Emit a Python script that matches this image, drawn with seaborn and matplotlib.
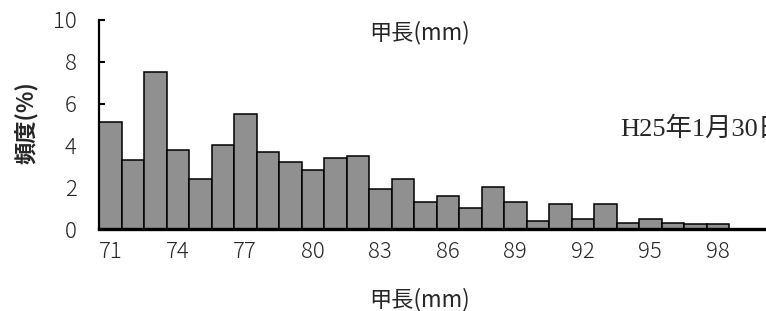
import matplotlib
matplotlib.use("Agg")
import matplotlib.pyplot as plt
import seaborn as sns
import numpy as np

# carapace length classes (mm) and frequency (%)
sizes = list(range(71, 100))
freq = [5.1, 3.3, 7.5, 3.8, 2.4, 4.0, 5.5, 3.7, 3.2, 2.8,
        3.4, 3.5, 1.9, 2.4, 1.3, 1.6, 1.0, 2.0, 1.3, 0.4,
        1.2, 0.5, 1.2, 0.3, 0.5, 0.3, 0.25, 0.25, 0.0]
tick_labels = [71, 74, 77, 80, 83, 86, 89, 92, 95, 98]
yticks = [0, 2, 4, 6, 8, 10]

sns.set_style("white")
plt.rcParams['font.family'] = ['Noto Sans CJK JP', 'DejaVu Sans']

fig = plt.figure(figsize=(7.66, 3.11), dpi=100)
ax = fig.add_axes([99 / 766, 82 / 311, 675 / 766, 209 / 311])

sns.barplot(x=sizes, y=freq, native_scale=True, width=1, color='#909090',
            saturation=1, edgecolor='black', linewidth=1.1, ax=ax)

ax.set_xlim(70.5, 100.5)
ax.set_ylim(0, 10)

ax.set_xticks(tick_labels)
ax.set_xticklabels([str(t) for t in tick_labels], fontsize=16, fontweight='light')
ax.set_xticks(np.arange(70.5, 100.5, 1), minor=True)
ax.tick_params(axis='x', which='major', length=0, pad=9)
ax.tick_params(axis='x', which='minor', direction='in', length=3, width=1.2, color='black')
ax.set_yticks(yticks)
ax.set_yticklabels([str(t) for t in yticks], fontsize=16, fontweight='light')
ax.tick_params(axis='y', direction='in', length=4, width=1.5, color='black', pad=16, left=True)

for s in ['top', 'right']:
    ax.spines[s].set_visible(False)
ax.spines['left'].set_linewidth(1.6)
ax.spines['left'].set_color('black')
ax.spines['bottom'].set_linewidth(2.4)
ax.spines['bottom'].set_color('black')

ax.set_xlabel('')
ax.set_ylabel('')
fig.text(420 / 766, 1 - 300 / 311, '甲長(mm)', fontsize=16, ha='center', va='center')
fig.text(420 / 766, 1 - 33 / 311, '甲長(mm)', fontsize=16, ha='center', va='center')
fig.text(26 / 766, 1 - 123 / 311, '頻度(%)', fontsize=16, fontweight='bold',
         rotation=90, ha='center', va='center')
fig.text(620 / 766, 1 - 129 / 311, 'H25年1月30日', fontsize=19,
         family=['Liberation Serif', 'Noto Sans CJK JP'], ha='left', va='center')

fig.savefig('out.png', dpi=100)
